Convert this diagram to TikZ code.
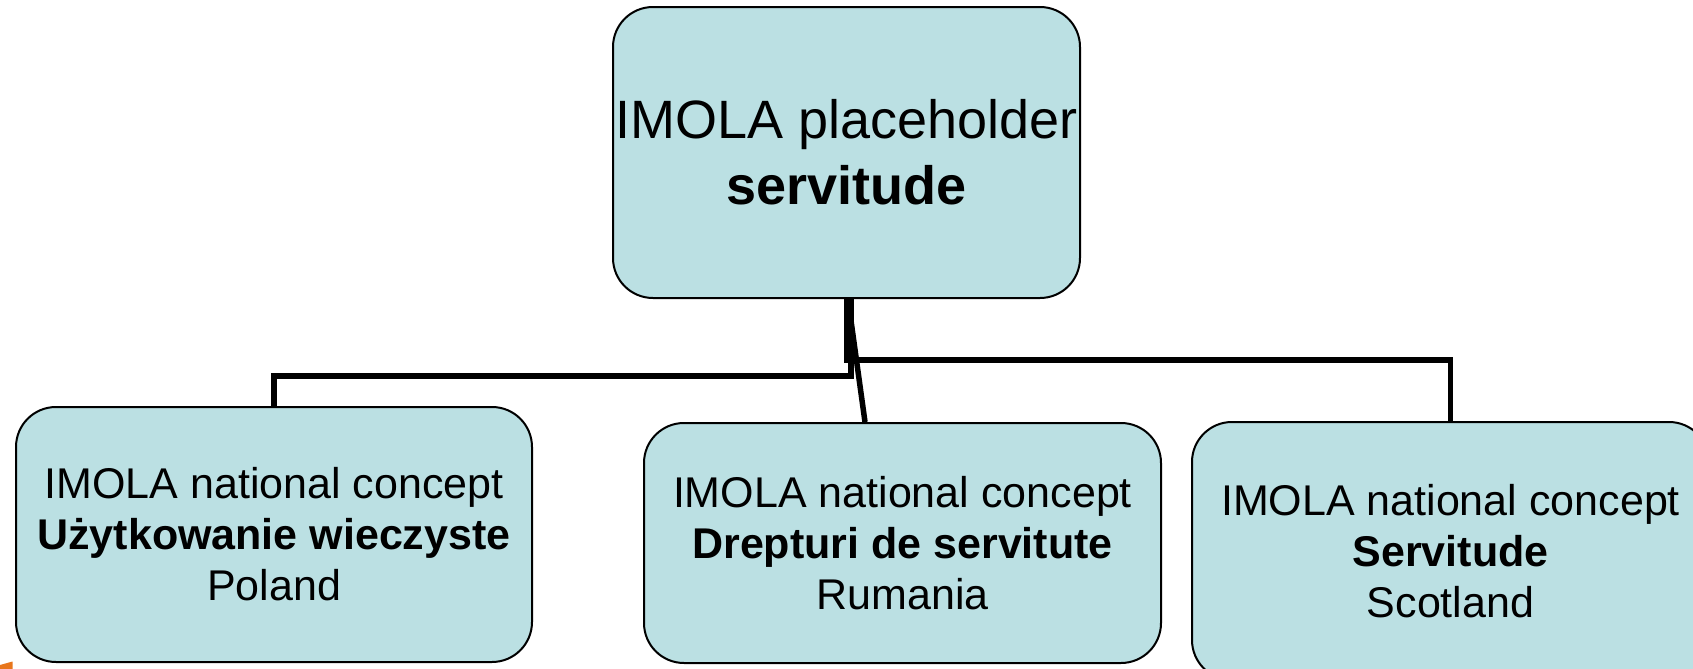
\documentclass[tikz,border=0pt]{standalone}
\usepackage{fontspec}
\setmainfont{Liberation Sans}
\usepackage{tikz}

\definecolor{boxblue}{RGB}{187,224,227}
\definecolor{logoorange}{RGB}{232,118,28}

\begin{document}
\begin{tikzpicture}[x=0.5pt, y=-0.5pt, line width=1pt,
    concept/.style={draw=black, fill=boxblue, rounded corners=20pt, inner sep=0pt,
                    align=center, minimum width=258.5pt},
    national/.style={concept, font=\fontsize{21.5}{25.5}\selectfont},
    link/.style={line width=2.75pt}]
    % fix page size and cut what runs over the edge
    \useasboundingbox (0,0) rectangle (1693,669);
    \clip (0,0) rectangle (1693,669);

    % draw placeholder box
    \node[concept, minimum width=233.5pt, minimum height=145.5pt,
          font=\fontsize{27}{33}\selectfont] (holder) at (846.5,152.5)
          {IMOLA placeholder\\\textbf{servitude}};

    % draw national concept boxes
    \node[national, minimum width=258pt, minimum height=127.5pt] (poland) at (274,534.5)
          {IMOLA national concept\\\textbf{Użytkowanie wieczyste}\\Poland};
    \node[national, minimum height=120pt] (rumania) at (902.5,543)
          {IMOLA national concept\\\textbf{Drepturi de servitute}\\Rumania};
    \node[national, minimum height=129pt] (scotland) at (1450.5,551)
          {IMOLA national concept\\\textbf{Servitude}\\Scotland};

    % draw links
    \draw[link] ([xshift=2.25pt]holder.south) |- ([yshift=15pt]poland.north) -- (poland.north);
    \draw[link] (holder.south) |- ([yshift=30.5pt]scotland.north) -- (scotland.north);
    \draw[link] ([xshift=0.75pt]holder.south) -- ([xshift=-18.75pt]rumania.north);

    % draw corner of logo
    \fill[logoorange] (0,665) -- (12.5,661.5) -- (12.5,669) -- (0,669) -- cycle;

\end{tikzpicture}
\end{document}
